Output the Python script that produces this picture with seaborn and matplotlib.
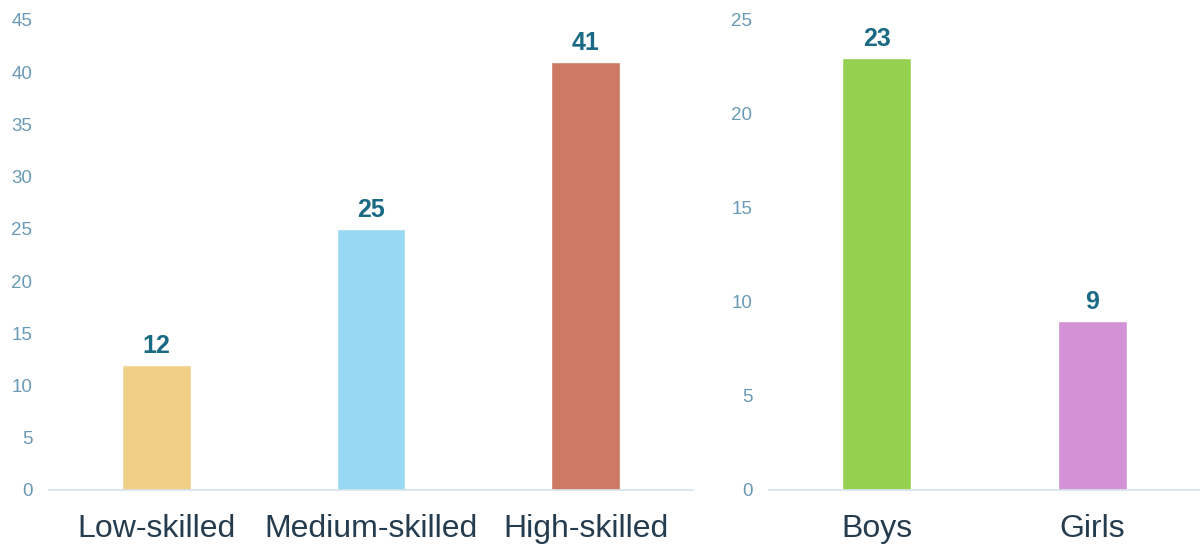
import matplotlib
matplotlib.use("Agg")
import matplotlib.pyplot as plt
import seaborn as sns
import pandas as pd

skill_categories = ["Low-skilled", "Medium-skilled", "High-skilled"]
skill_values = [12, 25, 41]
skill_colors = ["#f0cf87", "#99d8f2", "#cd7964"]

gender_categories = ["Boys", "Girls"]
gender_values = [23, 9]
gender_colors = ["#94d14f", "#d492d6"]

left_ticks = [0, 5, 10, 15, 20, 25, 30, 35, 40, 45]
right_ticks = [0, 5, 10, 15, 20, 25]

sns.set_theme(style="white")
plt.rcParams["font.family"] = ["Liberation Sans", "DejaVu Sans"]

fig = plt.figure(figsize=(12, 5.45), dpi=100)
ax1 = fig.add_axes([49/1200, 1-490/545, 644/1200, 470/545])
ax2 = fig.add_axes([769/1200, 1-490/545, 431/1200, 470/545])

def draw(ax, cats, vals, colors, ticks, ymax):
    df = pd.DataFrame({"cat": cats, "val": vals})
    sns.barplot(data=df, x="cat", y="val", hue="cat", palette=colors,
                width=0.32, legend=False, ax=ax, saturation=1)
    ax.set_ylim(0, ymax)
    ax.set_xlim(-0.5, len(cats) - 0.5)
    ax.set_yticks(ticks)
    ax.set_xlabel("")
    ax.set_ylabel("")
    for s in ["top", "right", "left"]:
        ax.spines[s].set_visible(False)
    ax.spines["bottom"].set_color("#d5e3ea")
    ax.spines["bottom"].set_linewidth(1.2)
    ax.tick_params(axis="y", colors="#6a9ab5", labelsize=13.5, length=0, pad=12)
    ax.tick_params(axis="x", colors="#253c4f", labelsize=23, length=0, pad=17)
    for lbl in ax.get_yticklabels():
        lbl.set_color("#6a9ab5")
    for lbl in ax.get_xticklabels():
        lbl.set_color("#253c4f")
    for i, v in enumerate(vals):
        ax.annotate(str(v), (i, v), xytext=(0, 5), textcoords="offset points",
                    ha="center", va="bottom", fontsize=18, fontweight="bold",
                    color="#1a6a85")

draw(ax1, skill_categories, skill_values, skill_colors, left_ticks, 45)
draw(ax2, gender_categories, gender_values, gender_colors, right_ticks, 25)

fig.savefig("out.png", dpi=100)
